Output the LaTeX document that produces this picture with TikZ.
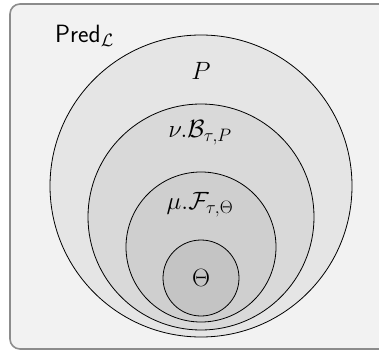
\documentclass[tikz,border=0pt]{standalone}
\usepackage{fix-cm}
\usepackage{amsmath}
\DeclareMathSizes{25}{25}{18}{14}
\definecolor{bordergray}{gray}{0.55}
\begin{document}
\begin{tikzpicture}[x=1pt,y=-1pt,
  ring/.style={circle,draw=black,line width=0.8pt,inner sep=0pt},
  lbl/.style={inner sep=0pt,font=\fontsize{25}{30}\selectfont}]
\clip (0,0) rectangle (379,352);
\draw[rounded corners=10pt,fill=gray!10,draw=bordergray,line width=1.6pt] (10,4) rectangle (400,349);
\node[ring,fill=gray!20,minimum size=302pt] (c1) at (201,186) {};
\node[ring,fill=gray!30,minimum size=226pt] (c2) at (201,217) {};
\node[ring,fill=gray!38,minimum size=150pt] (c3) at (201,247) {};
\node[ring,fill=gray!46,minimum size=76pt] (c4) at (201,278) {};
\node[lbl,anchor=base west] (pred) at (55,43) {\textsf{Pred}$_{\mathcal{L}}$};
\node[lbl] (p) at (201,71) {$P$};
\node[lbl,anchor=base] (nu) at (200,138) {$\nu.\mathcal{B}_{\tau,P}$};
\node[lbl,anchor=base] (mu) at (200,210) {$\mu.\mathcal{F}_{\tau,\Theta}$};
\node[lbl] (th) at (201,278) {$\Theta$};
\end{tikzpicture}
\end{document}
